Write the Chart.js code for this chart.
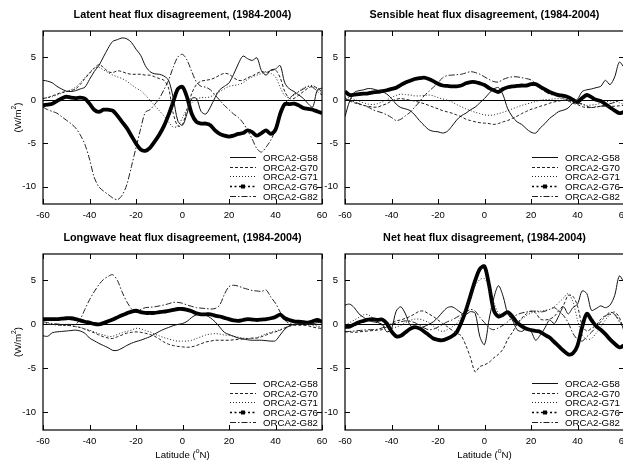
<!DOCTYPE html>
<html>
<head>
<meta charset="utf-8">
<title>Heat flux disagreement, ORCA2 runs (1984-2004)</title>
<script src="https://cdn.jsdelivr.net/npm/chart.js@4/dist/chart.umd.min.js"></script>
<style>
  html, body { margin: 0; padding: 0; background: #fff; overflow: hidden; width: 623px; height: 461px; }
  canvas { position: absolute; left: 0; top: 0; }
</style>
</head>
<body>
<canvas id="latent" width="640" height="461"></canvas>
<canvas id="sensible" width="640" height="461"></canvas>
<canvas id="longwave" width="640" height="461"></canvas>
<canvas id="net" width="640" height="461"></canvas>
<script>
// Latitude grid (degrees north) shared by every zonal-mean curve
const latitudes = [-60,-58,-56,-54,-52,-50,-48,-46,-44,-42,-40,-38,-36,-34,-32,-30,-28,-26,-24,-22,-20,
  -18,-16,-14,-12,-10,-8,-6,-4,-2,0,2,4,6,8,10,12,14,16,18,20,22,24,26,28,30,32,34,36,38,40,
  42,44,46,48,50,52,54,56,58,60];

// Axis ticks
const latTicks = [-60, -40, -20, 0, 20, 40, 60];
const fluxTicks = [-10, -5, 0, 5];

// Model runs
const runNames = ['ORCA2-G58', 'ORCA2-G70', 'ORCA2-G71', 'ORCA2-G76', 'ORCA2-G82'];

// Latent heat flux disagreement (W/m2)
const latentG58 = [2.3,2.2,2.0,1.6,1.3,1.05,1.0,1.1,1.3,1.5,2.4,3.3,4.0,5.0,6.0,6.8,7.0,7.2,7.1,6.7,5.9,
  5.2,4.0,3.3,3.05,3.0,2.8,2.3,0.3,-2.4,-2.9,-1.5,0.2,0.2,-1.3,-1.6,-0.8,0.3,1.2,1.6,2.0,
  3.0,4.2,5.1,4.8,4.6,4.9,3.4,2.9,3.5,3.6,4.0,2.0,1.3,1.0,0.6,0.2,-0.4,-0.8,1.2,1.4];
const latentG70 = [0.2,0.3,0.5,0.7,0.9,1.0,1.1,1.3,1.8,2.5,3.1,3.7,4.1,3.8,3.3,3.2,3.4,3.3,3.1,3.0,3.0,
  3.0,2.9,2.9,2.7,2.5,2.3,1.4,-1.5,-3.0,-2.8,-1.0,0.8,1.8,2.2,2.3,2.4,2.6,2.9,3.1,3.0,
  2.6,2.3,2.3,2.6,2.8,3.1,3.3,3.2,3.4,3.5,2.6,1.0,0.2,0.2,0.6,1.0,1.4,1.6,1.4,1.0];
const latentG71 = [0.2,0.3,0.4,0.6,0.8,1.0,1.2,1.5,2.0,2.6,3.2,3.7,3.8,3.5,3.2,2.9,2.7,2.5,2.2,1.8,1.4,
  1.1,0.6,0.0,-0.6,-1.2,-1.8,-2.5,-3.1,-3.0,-2.0,-1.0,-0.3,0.1,0.3,0.3,0.4,0.7,1.0,1.3,1.6,
  1.7,1.8,2.0,2.4,2.7,2.9,3.1,3.3,3.1,2.7,1.5,0.5,0.3,0.6,1.0,1.4,1.6,1.7,1.3,0.8];
const latentG76 = [-0.6,-0.5,-0.4,-0.1,0.2,0.4,0.3,0.25,0.3,0.2,-0.4,-1.1,-1.35,-1.1,-1.1,-1.2,-1.8,-2.5,-3.2,-4.1,-5.0,
  -5.7,-5.85,-5.5,-4.8,-4.0,-3.0,-1.7,-0.2,1.3,1.55,0.3,-1.6,-2.5,-2.7,-2.7,-2.9,-3.5,-3.9,-4.1,-4.2,
  -4.1,-3.9,-3.8,-3.5,-3.7,-4.1,-3.8,-3.5,-3.9,-3.4,-1.6,-0.45,-0.45,-0.4,-0.6,-0.9,-1.0,-1.1,-1.3,-1.5];
const latentG82 = [-0.8,-1.1,-1.3,-1.5,-1.9,-2.3,-2.7,-3.2,-4.0,-5.1,-6.8,-8.9,-10.0,-10.5,-10.9,-11.3,-11.5,-11.0,-9.8,-7.7,-5.5,
  -3.3,-1.4,-1.1,-0.5,0.2,1.2,2.3,3.8,5.0,5.3,4.6,3.3,2.1,1.6,1.5,1.2,0.6,0.0,-0.6,-1.1,
  -1.6,-2.0,-2.6,-3.5,-4.5,-5.6,-6.0,-5.4,-4.6,-3.4,-1.2,-0.4,0.2,0.7,1.0,1.3,1.6,1.5,1.0,0.6];

// Sensible heat flux disagreement (W/m2)
const sensibleG58 = [-1.9,-0.1,0.9,1.1,1.2,1.35,1.3,1.15,1.0,0.7,0.2,-0.45,-0.85,-1.0,-1.2,-1.7,-2.35,-2.9,-3.4,-3.6,-3.65,
  -3.8,-3.6,-3.0,-2.3,-1.8,-1.5,-1.1,-0.8,-0.3,0.2,0.8,1.3,1.45,0.6,-1.0,-1.9,-2.5,-2.8,-3.3,-3.7,
  -3.8,-3.2,-2.7,-2.1,-1.7,-1.3,-1.15,-0.9,-0.3,0.1,1.0,1.2,1.3,1.45,1.6,2.3,1.8,2.7,4.4,3.8];
const sensibleG70 = [0.2,-0.1,-0.3,-0.45,-0.6,-0.7,-0.8,-0.8,-0.6,-0.4,-0.1,0.1,0.2,0.1,0.0,-0.1,-0.25,-0.4,-0.6,-0.8,-1.0,
  -1.2,-1.35,-1.5,-1.7,-1.9,-2.2,-2.35,-2.5,-2.6,-2.65,-2.7,-2.8,-2.7,-2.5,-2.35,-2.1,-1.85,-1.55,-1.3,-1.05,
  -0.9,-0.7,-0.55,-0.35,-0.2,-0.1,0.0,-0.1,-0.35,-0.5,-0.75,-0.85,-0.85,-0.8,-0.7,-0.7,-0.7,-0.7,-0.65,-0.6];
const sensibleG71 = [0.4,0.25,0.1,-0.1,-0.3,-0.45,-0.5,-0.4,-0.2,0.05,0.3,0.55,0.7,0.65,0.6,0.5,0.5,0.55,0.6,0.5,0.3,
  0.15,0.0,-0.2,-0.5,-0.75,-1.0,-1.2,-1.4,-1.55,-1.7,-1.75,-1.7,-1.55,-1.4,-1.2,-1.0,-0.8,-0.6,-0.45,-0.3,
  -0.15,0.0,0.05,0.1,0.15,0.2,0.15,0.1,-0.1,-0.3,-0.5,-0.6,-0.55,-0.5,-0.35,-0.2,-0.1,-0.1,-0.3,-0.5];
const sensibleG76 = [1.0,0.6,0.65,0.7,0.75,0.8,0.9,0.95,1.05,1.15,1.3,1.45,1.75,2.05,2.25,2.45,2.55,2.6,2.45,2.2,1.9,
  1.7,1.65,1.6,1.6,1.7,1.95,2.1,2.1,1.95,1.75,1.4,1.15,0.95,1.3,1.5,1.6,1.65,1.7,1.7,1.85,
  1.85,1.55,1.25,0.95,0.75,0.6,0.5,0.35,0.05,-0.2,0.25,0.6,0.35,0.05,-0.1,-0.45,-0.85,-1.2,-1.5,-1.35];
const sensibleG82 = [0.2,0.0,-0.2,-0.4,-0.6,-0.8,-1.1,-1.3,-1.45,-1.7,-2.0,-2.35,-2.2,-1.8,-1.4,-0.8,-0.2,0.5,1.0,1.5,2.0,
  2.6,2.85,2.9,2.95,3.0,3.15,3.3,3.2,3.0,2.7,2.4,2.15,2.1,2.4,2.6,2.7,2.7,2.6,2.5,2.35,
  1.9,1.35,1.0,0.7,0.55,0.4,0.2,0.0,-0.2,-0.4,-0.4,-0.7,-0.85,-0.75,-0.7,-0.55,-0.4,-0.25,-0.05,0.0];

// Longwave heat flux disagreement (W/m2)
const longwaveG58 = [-1.3,-1.35,-0.95,-0.85,-0.8,-0.75,-0.7,-0.65,-0.75,-1.0,-1.55,-1.85,-2.15,-2.4,-2.65,-2.95,-2.95,-2.7,-2.4,-2.15,-1.95,
  -1.8,-1.6,-1.4,-1.1,-0.8,-0.55,-0.35,-0.15,0.0,0.1,0.35,0.8,1.1,1.15,1.05,0.75,0.3,-0.3,-0.9,-1.15,
  -1.35,-1.55,-1.65,-1.75,-1.8,-1.8,-1.8,-1.85,-1.9,-1.85,-1.2,-0.55,-0.15,0.0,0.1,0.1,0.1,0.1,0.2,0.3];
const longwaveG70 = [0.0,0.0,0.0,-0.05,-0.1,-0.1,-0.15,-0.25,-0.35,-0.55,-0.75,-0.95,-1.2,-1.4,-1.55,-1.6,-1.4,-1.2,-1.0,-0.9,-0.85,
  -0.9,-1.0,-1.15,-1.35,-1.65,-2.0,-2.25,-2.4,-2.5,-2.55,-2.6,-2.55,-2.4,-2.2,-2.0,-1.9,-1.8,-1.8,-1.8,-1.8,
  -1.75,-1.7,-1.65,-1.6,-1.55,-1.55,-1.4,-1.2,-1.0,-0.85,-0.65,-0.4,-0.2,-0.1,-0.1,-0.1,-0.15,-0.3,-0.4,-0.45];
const longwaveG71 = [0.1,0.05,0.0,-0.05,-0.1,-0.1,-0.15,-0.25,-0.35,-0.5,-0.65,-0.85,-1.05,-1.2,-1.35,-1.35,-1.15,-0.95,-0.8,-0.65,-0.45,
  -0.5,-0.7,-0.85,-1.1,-1.3,-1.5,-1.65,-1.8,-1.9,-1.9,-1.9,-1.8,-1.6,-1.4,-1.2,-1.1,-1.05,-1.1,-1.2,-1.25,
  -1.35,-1.45,-1.55,-1.6,-1.6,-1.5,-1.3,-1.05,-0.9,-0.75,-0.6,-0.4,-0.15,0.0,0.05,0.1,0.05,-0.1,-0.2,-0.25];
const longwaveG76 = [0.6,0.6,0.6,0.6,0.65,0.7,0.7,0.6,0.45,0.3,0.2,0.05,0.0,0.15,0.35,0.55,0.8,1.05,1.25,1.45,1.55,
  1.4,1.3,1.3,1.3,1.4,1.45,1.55,1.65,1.75,1.75,1.65,1.5,1.25,1.15,1.15,1.15,1.0,0.9,0.75,0.6,
  0.45,0.4,0.5,0.6,0.55,0.5,0.55,0.6,0.7,0.85,1.1,0.7,0.5,0.35,0.3,0.25,0.2,0.35,0.5,0.3];
const longwaveG82 = [0.3,0.2,0.1,0.05,0.0,0.0,0.0,0.0,0.6,1.7,2.8,3.7,4.5,5.1,5.45,5.65,5.0,3.7,2.6,1.8,1.4,
  1.7,1.9,1.95,2.0,2.1,2.2,2.35,2.5,2.5,2.4,2.2,2.05,1.9,1.85,1.8,1.75,1.8,2.2,3.4,4.3,
  4.45,4.35,4.15,4.0,3.85,3.8,3.75,3.9,3.1,2.4,1.4,0.5,0.1,0.0,0.0,0.0,0.0,0.0,0.0,0.0];

// Net heat flux disagreement (W/m2)
const netG58 = [2.2,2.3,1.9,1.2,0.8,0.45,0.3,0.2,0.0,-0.85,-0.5,1.5,2.0,1.2,-0.1,-0.35,-0.4,-0.25,0.0,0.3,0.8,
  1.4,1.9,2.0,1.7,1.3,1.15,1.45,1.25,-1.4,-2.3,0.6,3.0,4.4,3.2,1.2,0.5,-0.6,-0.8,-0.5,-0.8,
  -1.8,-1.2,-0.4,0.5,0.1,1.0,2.0,1.2,1.9,2.3,3.8,3.5,1.6,1.8,2.1,1.9,2.2,3.3,5.5,4.8];
const netG70 = [-0.85,-0.85,-0.9,-0.85,-0.8,-0.75,-0.7,-0.65,-0.6,-0.25,0.1,0.4,0.5,0.7,0.9,1.2,1.5,1.5,1.2,0.9,0.5,
  0.1,-0.25,-0.65,-1.0,-1.3,-2.4,-3.8,-5.4,-4.8,-4.6,-4.3,-3.8,-3.4,-2.8,-1.7,-0.9,0.0,0.7,1.2,1.5,
  1.3,0.6,0.5,0.6,0.9,1.6,2.2,3.3,3.2,2.1,-0.1,-0.75,-0.45,-0.1,0.6,1.0,1.2,1.4,0.8,-0.8];
const netG71 = [-0.1,0.2,0.5,0.8,1.1,1.1,0.7,0.3,-0.1,-0.3,-0.45,-0.3,-0.1,0.2,0.45,0.6,0.6,0.45,0.2,-0.2,-0.6,
  -0.8,-0.6,-0.3,0.1,0.9,1.9,3.1,4.4,5.1,5.2,4.3,2.5,1.3,1.0,1.2,0.7,0.3,0.6,1.0,1.3,
  1.5,1.5,1.6,1.7,2.0,2.5,3.0,3.5,2.6,0.5,-1.2,-1.7,-1.6,-1.0,-0.3,0.5,1.1,1.2,0.5,-0.3];
const netG76 = [-0.3,-0.25,0.0,0.25,0.4,0.55,0.6,0.5,0.55,0.1,-0.8,-1.35,-1.3,-0.9,-0.5,-0.3,-0.45,-0.8,-1.2,-1.6,-1.75,
  -1.8,-1.6,-1.35,-0.9,0.2,1.6,3.3,5.0,6.3,6.6,4.4,1.6,0.9,1.1,1.4,0.9,0.2,-0.2,-0.5,-0.65,
  -0.75,-0.85,-1.2,-1.5,-2.0,-2.5,-3.0,-3.4,-3.3,-2.4,-0.3,1.2,0.5,-0.2,-0.6,-1.1,-1.7,-2.2,-2.6,-2.4];
const netG82 = [-0.8,-0.8,-0.75,-0.7,-0.65,-0.6,-0.6,-0.55,-0.4,-0.2,0.0,0.15,0.3,0.4,0.35,0.2,-0.1,-0.4,-0.6,-0.55,-0.3,
  0.0,0.3,0.5,0.8,1.1,1.4,1.7,1.5,0.8,0.2,-0.4,-0.6,-0.4,-0.1,0.3,0.8,1.1,1.3,1.4,1.5,
  1.5,1.4,1.5,1.7,1.9,1.5,1.0,0.2,-1.0,-1.7,-1.9,-1.4,-0.9,-0.3,0.3,0.9,1.4,1.1,0.3,-0.5];

// Line appearance for each run (same order as runNames)
const runStyles = [
  { color: '#111', width: 1, dash: [] },
  { color: '#222', width: 1, dash: [3, 2] },
  { color: '#222', width: 1, dash: [1, 2] },
  { color: '#000', width: 3.8, dash: [] },
  { color: '#222', width: 1, dash: [6, 2, 1.5, 2] }
];

const FONT = '"Liberation Sans", Arial, Helvetica, sans-serif';
const CANVAS_W = 640, CANVAS_H = 461;
const Y_AXIS_W = 43, X_AXIS_H = 16;

function drawScript(ctx, parts, x, y, size) {
  // parts: [{t, sup}] drawn left-to-right, centred on x
  let total = 0;
  parts.forEach(p => {
    ctx.font = (p.sup ? size * 0.7 : size) + 'px ' + FONT;
    p.w = ctx.measureText(p.t).width;
    total += p.w;
  });
  let cx = x - total / 2;
  parts.forEach(p => {
    ctx.font = (p.sup ? size * 0.7 : size) + 'px ' + FONT;
    ctx.fillText(p.t, cx, p.sup ? y - size * 0.38 : y);
    cx += p.w;
  });
}

function framePlugin(panel) {
  return {
    id: 'frame',
    beforeDatasetsDraw(chart) {
      const { ctx, chartArea: a, scales } = chart;
      const y0 = Math.round(scales.y.getPixelForValue(0)) + 0.5;
      ctx.save();
      ctx.strokeStyle = '#000';
      ctx.lineWidth = 1;
      ctx.beginPath();
      ctx.moveTo(a.left, y0);
      ctx.lineTo(a.right, y0);
      ctx.stroke();
      ctx.restore();
    },
    afterDatasetsDraw(chart) {
      const { ctx, chartArea: a, scales } = chart;
      ctx.save();
      // plot frame
      ctx.strokeStyle = '#000';
      ctx.lineWidth = 1.2;
      ctx.strokeRect(a.left, a.top, a.right - a.left, a.bottom - a.top);
      // inward tick marks on all four sides
      ctx.lineWidth = 1;
      ctx.beginPath();
      latTicks.forEach(v => {
        const px = Math.round(scales.x.getPixelForValue(v)) + 0.5;
        ctx.moveTo(px, a.bottom); ctx.lineTo(px, a.bottom - 5);
        ctx.moveTo(px, a.top); ctx.lineTo(px, a.top + 5);
      });
      fluxTicks.forEach(v => {
        const py = Math.round(scales.y.getPixelForValue(v)) + 0.5;
        ctx.moveTo(a.left, py); ctx.lineTo(a.left + 5, py);
        ctx.moveTo(a.right, py); ctx.lineTo(a.right - 5, py);
      });
      ctx.stroke();

      // key in the lower right corner
      const keyX = a.left + 187, keyLen = 26, keyTextX = a.left + 220;
      chart.data.datasets.forEach((ds, i) => {
        const ky = Math.round(a.bottom - 47 + i * 9.7) + 0.5;
        const st = runStyles[i];
        ctx.strokeStyle = st.color;
        if (i === 3) {
          ctx.lineWidth = 1.4;
          ctx.setLineDash([2, 2.5]);
          ctx.beginPath(); ctx.moveTo(keyX, ky); ctx.lineTo(keyX + keyLen, ky); ctx.stroke();
          ctx.setLineDash([]);
          ctx.fillStyle = '#000';
          ctx.fillRect(keyX + keyLen / 2 - 2, ky - 2, 4, 4);
        } else {
          ctx.lineWidth = st.width;
          ctx.setLineDash(st.dash);
          ctx.beginPath(); ctx.moveTo(keyX, ky); ctx.lineTo(keyX + keyLen, ky); ctx.stroke();
          ctx.setLineDash([]);
        }
        ctx.fillStyle = '#000';
        ctx.font = '9.7px ' + FONT;
        ctx.textAlign = 'left';
        ctx.textBaseline = 'middle';
        ctx.fillText(ds.label, keyTextX, ky + 0.5);
      });

      // panel title
      ctx.fillStyle = '#000';
      ctx.font = 'bold 10.8px ' + FONT;
      ctx.textAlign = 'center';
      ctx.textBaseline = 'middle';
      ctx.fillText(panel.title, (a.left + a.right) / 2, a.top - 16);

      ctx.textAlign = 'left';
      ctx.textBaseline = 'middle';
      if (panel.yTitle) {
        ctx.save();
        ctx.translate(a.left - 25, (a.top + a.bottom) / 2);
        ctx.rotate(-Math.PI / 2);
        drawScript(ctx, [{ t: '(W/m' }, { t: '2', sup: true }, { t: ')' }], 0, 0, 9.7);
        ctx.restore();
      }
      if (panel.xTitle) {
        drawScript(ctx, [{ t: 'Latitude (' }, { t: 'o', sup: true }, { t: 'N)' }],
          (a.left + a.right) / 2, a.bottom + 25, 9.7);
      }
      ctx.restore();
    }
  };
}

function makePanel(id, panel) {
  const box = panel.box;
  new Chart(document.getElementById(id), {
    type: 'line',
    data: {
      datasets: panel.series.map((vals, i) => ({
        label: runNames[i],
        data: latitudes.map((lat, k) => ({ x: lat, y: vals[k] })),
        borderColor: runStyles[i].color,
        borderWidth: runStyles[i].width,
        borderDash: runStyles[i].dash,
        pointRadius: 0,
        tension: 0.3,
        fill: false
      }))
    },
    options: {
      responsive: false,
      animation: false,
      devicePixelRatio: 1,
      layout: {
        padding: {
          left: box.left - Y_AXIS_W,
          right: CANVAS_W - box.right,
          top: box.top,
          bottom: CANVAS_H - box.bottom - X_AXIS_H
        }
      },
      plugins: { legend: { display: false }, tooltip: { enabled: false }, title: { display: false } },
      scales: {
        x: {
          type: 'linear', min: -60, max: 60,
          grid: { display: false, drawTicks: false },
          border: { display: false },
          afterBuildTicks: s => { s.ticks = latTicks.map(v => ({ value: v })); },
          afterFit: s => { s.height = X_AXIS_H; },
          ticks: { padding: 6, color: '#000', maxRotation: 0, autoSkip: false,
                   font: { family: FONT, size: 9.5 }, callback: v => String(v) }
        },
        y: {
          type: 'linear', min: -12, max: 8,
          grid: { display: false, drawTicks: false },
          border: { display: false },
          afterBuildTicks: s => { s.ticks = fluxTicks.map(v => ({ value: v })); },
          afterFit: s => { s.width = Y_AXIS_W; },
          ticks: { padding: 7, color: '#000', font: { family: FONT, size: 9.5 }, callback: v => String(v) }
        }
      }
    },
    plugins: [framePlugin(panel)]
  });
}

makePanel('latent', {
  title: 'Latent heat flux disagreement, (1984-2004)',
  series: [latentG58, latentG70, latentG71, latentG76, latentG82],
  box: { left: 43, right: 322, top: 31, bottom: 204 }, yTitle: true, xTitle: false
});
makePanel('sensible', {
  title: 'Sensible heat flux disagreement, (1984-2004)',
  series: [sensibleG58, sensibleG70, sensibleG71, sensibleG76, sensibleG82],
  box: { left: 345, right: 624, top: 31, bottom: 204 }, yTitle: false, xTitle: false
});
makePanel('longwave', {
  title: 'Longwave heat flux disagreement, (1984-2004)',
  series: [longwaveG58, longwaveG70, longwaveG71, longwaveG76, longwaveG82],
  box: { left: 43, right: 322, top: 254, bottom: 430 }, yTitle: true, xTitle: true
});
makePanel('net', {
  title: 'Net heat flux disagreement, (1984-2004)',
  series: [netG58, netG70, netG71, netG76, netG82],
  box: { left: 345, right: 624, top: 254, bottom: 430 }, yTitle: false, xTitle: true
});
</script>
</body>
</html>
